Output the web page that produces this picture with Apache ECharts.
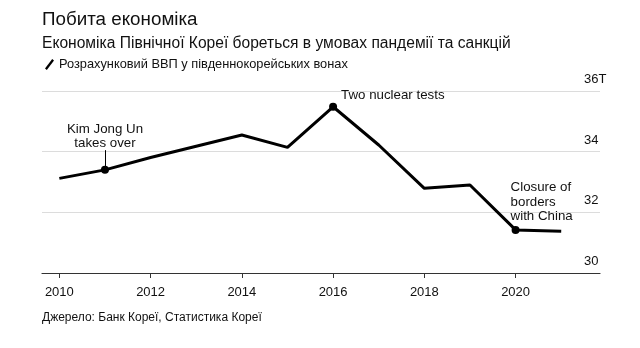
<!DOCTYPE html>
<html>
<head>
<meta charset="utf-8">
<script src="https://cdn.jsdelivr.net/npm/echarts@6/dist/echarts.min.js"></script>
<style>
  html, body { margin: 0; padding: 0; background: #fff; }
  #chart { width: 640px; height: 348px; }
</style>
</head>
<body>
<div id="chart"></div>
<script>
// Estimated GDP of North Korea, trillion South Korean won
const years = [2010, 2011, 2012, 2013, 2014, 2015, 2016, 2017, 2018, 2019, 2020, 2021];
const gdp = [33.12, 33.40, 33.81, 34.18, 34.55, 34.14, 35.48, 34.22, 32.79, 32.90, 31.42, 31.38];
const xTicks = [2010, 2012, 2014, 2016, 2018, 2020];
const yTicks = [30, 32, 34, 36];

// Annotated events
const events = [
  { year: 2011, text: 'Kim Jong Un\ntakes over' },
  { year: 2016, text: 'Two nuclear tests' },
  { year: 2020, text: 'Closure of\nborders\nwith China' }
];

const seriesName = 'Розрахунковий ВВП у південнокорейських вонах';
const FONT = '"Liberation Sans", Arial, sans-serif';
const INK = '#111';

const valueAt = y => gdp[years.indexOf(y)];

const labelPlacement = {
  2011: { position: [4, -43], align: 'center', lineHeight: 13.5 },
  2016: { position: [12, -15], align: 'left', lineHeight: 15 },
  2020: { position: [-1, -46], align: 'left', lineHeight: 14.7 }
};

const eventPoints = events.map(e => ({
  value: [e.year, valueAt(e.year)],
  label: {
    show: true,
    formatter: e.text,
    position: labelPlacement[e.year].position,
    align: labelPlacement[e.year].align,
    verticalAlign: 'top',
    fontSize: 13.3,
    lineHeight: labelPlacement[e.year].lineHeight,
    color: INK,
    opacity: 1,
    fontFamily: FONT
  }
}));

const chart = echarts.init(document.getElementById('chart'), null, { renderer: 'canvas' });

chart.setOption({
  animation: false,
  backgroundColor: '#fff',
  textStyle: { fontFamily: FONT },
  title: [
    {
      text: 'Побита економіка',
      subtext: 'Економіка Північної Кореї бореться в умовах пандемії та санкцій',
      left: 37,
      top: 5,
      itemGap: 7,
      textStyle: { fontSize: 18.8, fontWeight: 'normal', color: INK, fontFamily: FONT },
      subtextStyle: { fontSize: 15.6, color: INK, fontFamily: FONT }
    },
    {
      text: 'Джерело: Банк Кореї, Статистика Кореї',
      left: 37,
      top: 307,
      textStyle: { fontSize: 12, fontWeight: 'normal', color: INK, fontFamily: FONT }
    }
  ],
  legend: {
    data: [seriesName],
    left: 40,
    top: 53,
    icon: 'path://M8,0 L10,1.6 L2,12 L0,10.4 Z',
    itemWidth: 9,
    itemHeight: 11,
    itemGap: 6,
    textStyle: { fontSize: 12.8, color: INK, fontFamily: FONT }
  },
  grid: { left: 42, right: 40, top: 91, bottom: 75 },
  xAxis: {
    type: 'value',
    min: 2009.62,
    max: 2021.85,
    splitLine: { show: false },
    axisLine: { show: true, onZero: false, lineStyle: { color: '#333', width: 1.2 } },
    axisTick: { show: true, customValues: xTicks, length: 5, lineStyle: { color: '#333' } },
    axisLabel: { customValues: xTicks, margin: 13, fontSize: 13, color: INK, fontFamily: FONT,
      formatter: v => String(v) }
  },
  yAxis: {
    type: 'value',
    position: 'right',
    min: 30,
    max: 36,
    interval: 2,
    axisLine: { show: false },
    axisTick: { show: false },
    splitLine: { show: true, lineStyle: { color: '#dcdcdc', width: 1.2 } },
    axisLabel: {
      inside: true,
      margin: 16,
      align: 'left',
      verticalAlign: 'bottom',
      padding: [0, 0, 5, 0],
      fontSize: 13,
      color: INK,
      fontFamily: FONT,
      formatter: v => (v === 36 ? '36T' : String(v))
    }
  },
  series: [
    {
      name: seriesName,
      type: 'line',
      data: years.map((y, i) => [y, gdp[i]]),
      symbol: 'none',
      lineStyle: { color: '#000', width: 3 },
      itemStyle: { color: '#000' },
      z: 3
    },
    {
      name: 'events',
      type: 'scatter',
      data: eventPoints,
      symbolSize: 8,
      itemStyle: { color: '#000', opacity: 1 },
      z: 4,
      markLine: {
        silent: true,
        symbol: 'none',
        label: { show: false },
        lineStyle: { color: '#000', width: 1, type: 'solid', opacity: 1 },
        data: [[
          { coord: [2011, valueAt(2011)] },
          { coord: [2011, 34.05] }
        ]]
      }
    }
  ]
});
</script>
</body>
</html>
